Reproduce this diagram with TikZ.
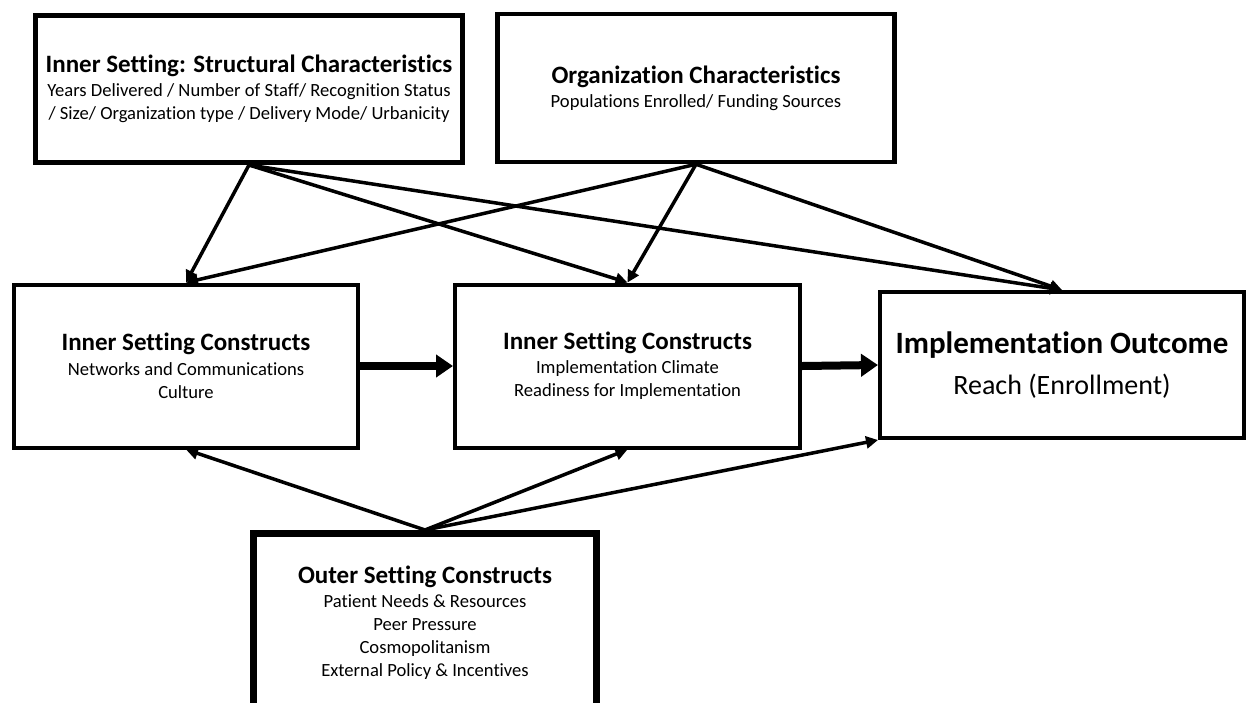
\documentclass[tikz,border=0pt]{standalone}
\usepackage{fontspec}
\setmainfont[Ligatures=CommonOff]{Carlito}
\usetikzlibrary{arrows.meta}

\begin{document}
\begin{tikzpicture}[x=1pt,y=-1pt,
    box/.style={rectangle,draw,line width=4pt,align=center,inner sep=0pt,
      font=\fontsize{18.6}{23}\selectfont},
    link/.style={line width=3.5pt,-{Triangle[length=12pt,width=12pt]}},
    flow/.style={line width=8pt,-{Triangle[length=17pt,width=22pt]}}
    ]
\useasboundingbox (0,0) rectangle (1248,702);
\clip (0,0) rectangle (1248,702);
% boxes
\node[box,line width=5pt,minimum width=427pt,minimum height=147pt] (struct) at (249,89)
  {{\fontsize{25}{28}\selectfont\bfseries Inner Setting: Structural Characteristics}\\[1pt]
   Years Delivered / Number of Staff/ Recognition Status\\
   / Size/ Organization type / Delivery Mode/ Urbanicity};
\node[box,line width=4.5pt,minimum width=397pt,minimum height=148pt] (org) at (696,88)
  {{\fontsize{25}{28}\selectfont\bfseries Organization Characteristics}\\[1pt]
   Populations Enrolled/ Funding Sources};
\node[box,minimum width=344pt,minimum height=163pt] (netw) at (186,366)
  {{\fontsize{25}{28}\selectfont\bfseries Inner Setting Constructs}\\[2pt]
   Networks and Communications\\
   Culture};
\node[box,minimum width=345pt,minimum height=163pt] (climate) at (627.5,366)
  {{\fontsize{25}{28}\selectfont\bfseries Inner Setting Constructs}\\[1pt]
   Implementation Climate\\
   Readiness for Implementation};
\node[box,minimum width=364pt,minimum height=146pt] (outcome) at (1062,365)
  {{\fontsize{31}{36}\selectfont\bfseries Implementation Outcome}\\[14pt]
   {\fontsize{28}{32}\selectfont Reach (Enrollment)}};
\node[box,line width=7pt,minimum width=343pt,minimum height=178pt] (outer) at (425,622.5)
  {{\fontsize{25}{28}\selectfont\bfseries Outer Setting Constructs}\\[1pt]
   Patient Needs \& Resources\\
   Peer Pressure\\
   Cosmopolitanism\\
   External Policy \& Incentives};
% arrows
\draw[link] (struct.south) -- (netw.north);
\draw[link] (struct.south) -- (climate.north);
\draw[link] (struct.south) -- (outcome.north);
\draw[link] (org.south) -- (netw.north);
\draw[link] (org.south) -- (climate.north);
\draw[link] (org.south) -- (outcome.north);
\draw[flow] (netw.east) -- (climate.west);
\draw[flow] (climate.east) -- (outcome.west);
\draw[link] (outer.north) -- (netw.south);
\draw[link] (outer.north) -- (climate.south);
\draw[link] (outer.north) -- (outcome.south west);
\end{tikzpicture}
\end{document}
